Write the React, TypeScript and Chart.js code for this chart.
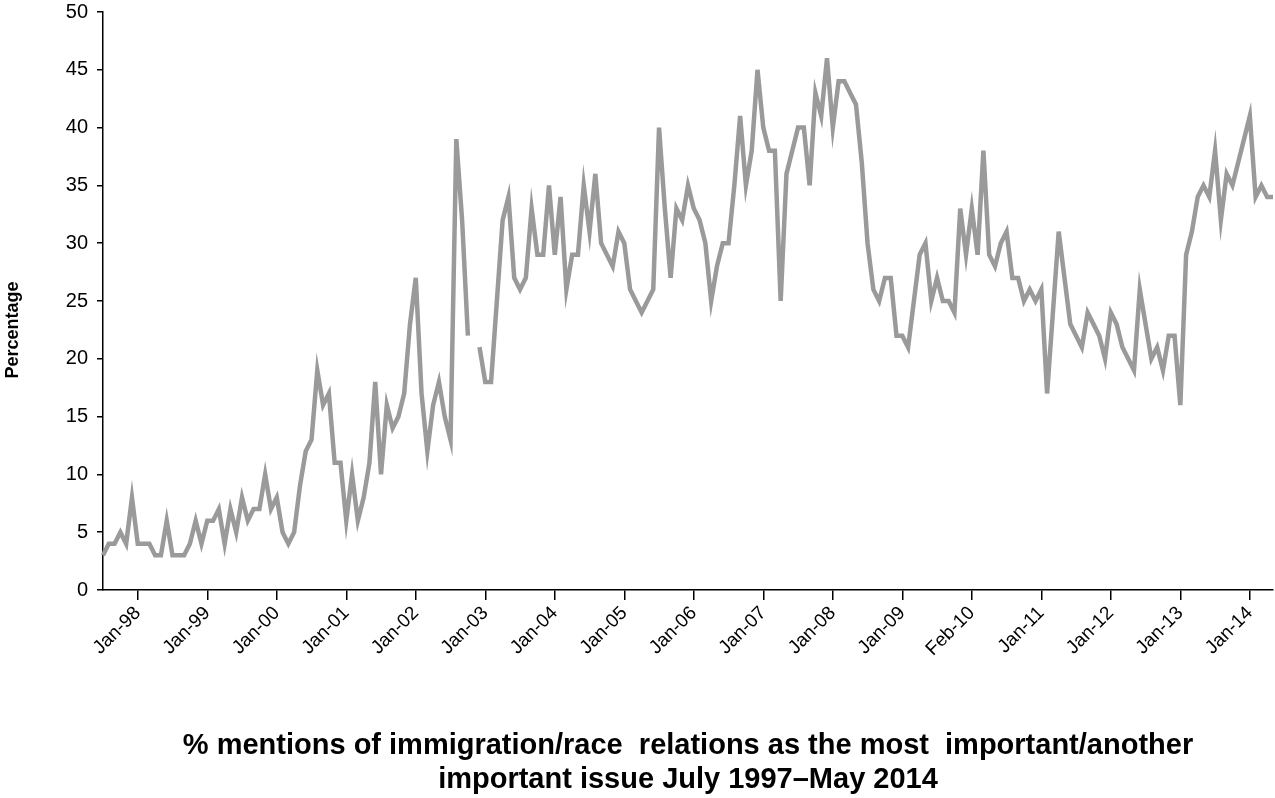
import React, { useEffect, useRef } from "react";
import { Chart, registerables } from "chart.js";

Chart.register(...registerables);

// Monthly categories: July 1997 – May 2014
const MONTH_NAMES = ["Jan", "Feb", "Mar", "Apr", "May", "Jun", "Jul", "Aug", "Sep", "Oct", "Nov", "Dec"];
const categories: string[] = [];
for (let y = 1997, m = 6; y < 2014 || (y === 2014 && m <= 4); m++) {
  if (m === 12) { m = 0; y++; }
  if (y === 2014 && m > 4) break;
  categories.push(MONTH_NAMES[m] + "-" + String(y).slice(2));
}

// % mentioning immigration/race relations (null = no data)
const mentions: (number | null)[] = [
  3, 4, 4, 5, 4, 8,
  4, 4, 4, 3, 3, 6, 3, 3, 3, 4, 6, 4,
  6, 6, 7, 4, 7, 5, 8, 6, 7, 7, 10, 7,
  8, 5, 4, 5, 9, 12, 13, 19, 16, 17, 11, 11,
  6, 10, 6, 8, 11, 18, 10, 16, 14, 15, 17, 23,
  27, 17, 12, 16, 18, 15, 13, 39, 32, 22, null, 21,
  18, 18, 25, 32, 34, 27, 26, 27, 33, 29, 29, 35,
  29, 34, 26, 29, 29, 35, 31, 36, 30, 29, 28, 31,
  30, 26, 25, 24, 25, 26, 40, 33, 27, 33, 32, 35,
  33, 32, 30, 25, 28, 30, 30, 35, 41, 35, 38, 45,
  40, 38, 38, 25, 36, 38, 40, 40, 35, 43, 41, 46,
  40, 44, 44, 43, 42, 37, 30, 26, 25, 27, 27, 22,
  22, 21, 25, 29, 30, 25, 27, 25, 25, 24, 33, 29,
  33, 29, 38, 29, 28, 30, 31, 27, 27, 25, 26, 25,
  26, 17, 24, 31, 27, 23, 22, 21, 24, 23, 22, 20,
  24, 23, 21, 20, 19, 26, 23, 20, 21, 19, 22, 22,
  16, 29, 31, 34, 35, 34, 38, 32, 36, 35, 37, 39,
  41, 34, 35, 34, 34,
];

// Tick positions (category names) and the labels printed there
const tickAt = ["Jan-98", "Jan-99", "Jan-00", "Jan-01", "Jan-02", "Jan-03", "Jan-04", "Jan-05", "Jan-06", "Jan-07", "Jan-08", "Jan-09", "Jan-10", "Jan-11", "Jan-12", "Jan-13", "Jan-14"];
const tickLabels = ["Jan-98", "Jan-99", "Jan-00", "Jan-01", "Jan-02", "Jan-03", "Jan-04", "Jan-05", "Jan-06", "Jan-07", "Jan-08", "Jan-09", "Feb-10", "Jan-11", "Jan-12", "Jan-13", "Jan-14"];

const yTicks = [0, 5, 10, 15, 20, 25, 30, 35, 40, 45, 50];

const xTitle = [
  "% mentions of immigration/race  relations as the most  important/another",
  "important issue July 1997\u2013May 2014",
];
const yTitle = "Percentage";

const FONT = "'Liberation Sans', Arial, Helvetica, sans-serif";

const yTitlePlugin = {
  id: "yTitleText",
  afterDraw(chart: any) {
    const ctx = chart.ctx;
    ctx.save();
    ctx.translate(13, 330);
    ctx.rotate(-Math.PI / 2);
    ctx.textAlign = "center";
    ctx.textBaseline = "middle";
    ctx.fillStyle = "#000";
    ctx.font = "bold 18px " + FONT;
    ctx.fillText(yTitle, 0, 0);
    ctx.restore();
  },
};

export default function App() {
  const canvasRef = useRef<HTMLCanvasElement | null>(null);

  useEffect(() => {
    if (!canvasRef.current) return;
    const chart = new Chart(canvasRef.current, {
      type: "line",
      data: {
        labels: categories,
        datasets: [
          {
            data: mentions,
            borderColor: "#9a9a9a",
            borderWidth: 4.5,
            pointRadius: 0,
            pointHoverRadius: 0,
            tension: 0,
            spanGaps: false,
            fill: false,
            borderJoinStyle: "miter",
          },
        ],
      },
      plugins: [yTitlePlugin],
      options: {
        animation: false,
        responsive: true,
        maintainAspectRatio: false,
        layout: { padding: { top: 12, right: 2, left: 0, bottom: 0 } },
        plugins: { legend: { display: false }, tooltip: { enabled: false } },
        scales: {
          x: {
            type: "category",
            offset: false,
            afterBuildTicks: (scale: any) => {
              scale.ticks = tickAt.map((c) => ({ value: categories.indexOf(c) }));
            },
            afterFit: (scale: any) => {
              scale.height = 208;
            },
            ticks: {
              autoSkip: false,
              minRotation: 45,
              maxRotation: 45,
              color: "#000",
              padding: 2,
              font: { family: FONT, size: 19 },
              callback: (value: any) => {
                const idx = tickAt.indexOf(categories[value as number]);
                return idx >= 0 ? tickLabels[idx] : "";
              },
            },
            grid: {
              display: true,
              drawOnChartArea: false,
              drawTicks: true,
              tickLength: 10,
              color: "#000",
              lineWidth: 1.5,
            },
            border: { display: true, color: "#000", width: 1.5 },
            title: {
              display: true,
              text: xTitle,
              color: "#000",
              font: { family: FONT, size: 29, weight: "bold", lineHeight: 1.1724 },
              padding: { top: 0, bottom: 1 },
            },
          },
          y: {
            min: 0,
            max: 50,
            afterBuildTicks: (scale: any) => {
              scale.ticks = yTicks.map((v) => ({ value: v }));
            },
            afterFit: (scale: any) => {
              scale.width = 103;
              scale.paddingTop = 0;
              scale.paddingBottom = 0;
            },
            ticks: {
              stepSize: 5,
              color: "#000",
              padding: 9,
              font: { family: FONT, size: 20 },
            },
            grid: {
              display: true,
              drawOnChartArea: false,
              drawTicks: true,
              tickLength: 6,
              color: "#000",
              lineWidth: 1.5,
            },
            border: { display: true, color: "#000", width: 1.5 },
            title: { display: false },
          },
        },
      },
    } as any);
    return () => chart.destroy();
  }, []);

  return (
    <div style={{ position: "absolute", left: 0, top: 0, width: 1275, height: 798, background: "#fff" }}>
      <canvas ref={canvasRef} />
    </div>
  );
}
